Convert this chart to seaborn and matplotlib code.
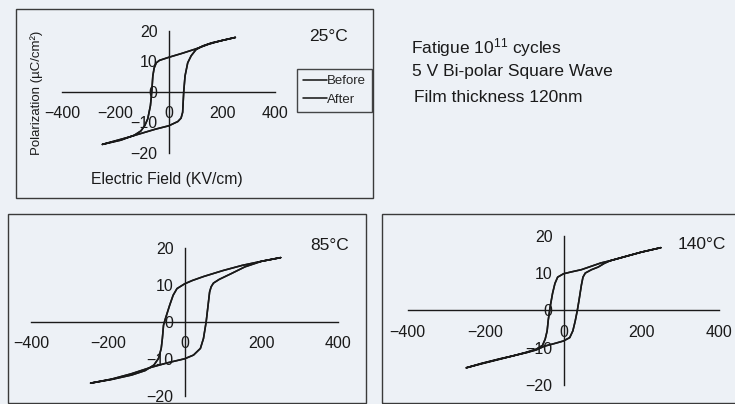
import matplotlib
matplotlib.use("Agg")
import matplotlib.pyplot as plt
from matplotlib.patches import Rectangle
import pandas as pd
import seaborn as sns

W, H = 735, 404
BG = "#edf1f6"
INK = "#1a1a1a"

states = ["Before", "After"]
temps = ["25°C", "85°C", "140°C"]
x_ticks = [-400, -200, 0, 200, 400]
y_ticks = [-20, -10, 0, 10, 20]

# 25 °C loop: descending-field branch, then ascending-field branch (kV/cm, µC/cm²)
e_down_25 = [250, 200, 174, 150, 100, 50, 0, -35, -47, -55, -60, -64, -69, -79, -90, -105, -130, -180, -250]
p_down_25 = [17.8, 16.8, 16.2, 15.6, 14.0, 12.6, 11.3, 10.3, 9.5, 7.8, 5.2, 0.0, -4.5, -8.8, -11.0, -12.8, -14.2, -15.8, -17.2]
e_up_25 = [-250, -200, -150, -100, -50, 0, 34, 46, 52, 56, 61, 71, 84, 102, 127, 160, 200, 250]
p_up_25 = [-17.2, -16.0, -14.8, -13.5, -12.2, -11.1, -9.7, -8.6, -6.7, 0.0, 5.2, 9.5, 11.8, 13.8, 15.0, 16.0, 16.8, 17.8]

# 85 °C loop
e_down_85 = [250, 200, 150, 100, 50, 20, 0, -20, -30, -39, -50, -55, -58, -61, -68, -80, -103, -138, -190, -245]
p_down_85 = [17.4, 16.4, 15.3, 13.9, 12.3, 11.2, 10.3, 9.0, 7.2, 4.5, 0.9, -0.9, -4.5, -7.2, -9.9, -11.7, -13.2, -14.4, -15.6, -16.6]
e_up_85 = [-245, -190, -140, -90, -45, 0, 23, 41, 49, 56, 60, 65, 69, 75, 90, 122, 157, 200, 250]
p_up_85 = [-16.6, -15.5, -14.1, -12.4, -11.1, -10.0, -9.0, -7.2, -4.5, 0.0, 3.6, 8.1, 9.5, 10.5, 11.5, 13.1, 14.9, 16.4, 17.4]

# 140 °C loop
e_down_140 = [250, 200, 165, 120, 96, 46, 20, 0, -15, -22, -28, -34, -39, -42, -47, -54, -70, -94, -130, -164, -210, -250]
p_down_140 = [16.8, 15.6, 14.6, 13.3, 12.7, 10.9, 10.3, 9.8, 8.9, 7.2, 4.6, 1.1, -2.5, -5.5, -7.7, -9.4, -10.4, -11.2, -12.2, -13.0, -14.2, -15.4]
e_up_140 = [-250, -210, -164, -130, -94, -70, -49, -20, 0, 16, 24, 30, 35.5, 40, 46, 50, 56, 72, 89, 105, 120, 165, 200, 250]
p_up_140 = [-15.4, -14.3, -13.1, -12.2, -11.3, -10.6, -9.6, -8.8, -8.2, -7.3, -5.5, -2.9, 0.0, 2.8, 6.8, 8.9, 10.0, 10.9, 11.6, 12.6, 13.3, 14.6, 15.6, 16.8]

loops = {
    "25°C": (e_down_25 + e_up_25, p_down_25 + p_up_25),
    "85°C": (e_down_85 + e_up_85, p_down_85 + p_up_85),
    "140°C": (e_down_140 + e_up_140, p_down_140 + p_up_140),
}

rows = []
for t in temps:
    es, ps = loops[t]
    for s in states:
        for i, (e, p) in enumerate(zip(es, ps)):
            rows.append({"temp": t, "state": s, "step": i, "E": e, "P": p})
df = pd.DataFrame(rows)

sns.set_style("white")
plt.rcParams["font.family"] = ["Liberation Sans", "DejaVu Sans"]
plt.rcParams["mathtext.default"] = "regular"

fig = plt.figure(figsize=(W / 100, H / 100), dpi=100, facecolor=BG)


def px_axes(left, right, top, bottom):
    return fig.add_axes([left / W, 1 - bottom / H, (right - left) / W, (bottom - top) / H])


def px_box(x0, y0, x1, y1):
    fig.add_artist(Rectangle((x0 / W, 1 - y1 / H), (x1 - x0) / W, (y1 - y0) / H,
                             transform=fig.transFigure, fill=False, ec="#3a3a3a", lw=1.0))


def signed(v):
    return f"{v}".replace("-", "\u2212")


# framed panels
px_box(16, 9, 373, 198)
px_box(8, 214, 366, 402.5)
px_box(382, 214, 745, 403)

panel_axes = {
    "25°C": px_axes(62.3, 275.3, 30.7, 153.0),
    "85°C": px_axes(31.0, 338.3, 248.0, 395.7),
    "140°C": px_axes(407.7, 719.3, 235.7, 385.0),
}

for t, ax in panel_axes.items():
    sub = df[df["temp"] == t]
    sns.lineplot(data=sub, x="E", y="P", hue="state", hue_order=states,
                 palette=[INK, INK], sort=False, estimator=None, legend=False,
                 lw=1.15, ax=ax)
    ax.set_xlim(-400, 400)
    ax.set_ylim(-20, 20)
    ax.set_facecolor("none")
    for side in ("top", "right"):
        ax.spines[side].set_visible(False)
    for side in ("left", "bottom"):
        ax.spines[side].set_position("zero")
        ax.spines[side].set_color(INK)
        ax.spines[side].set_linewidth(1.0)
    ax.set_xticks(x_ticks)
    ax.set_yticks(y_ticks)
    ax.set_xticklabels([signed(v) for v in x_ticks])
    ax.set_yticklabels([signed(v) for v in y_ticks])
    ax.tick_params(axis="both", direction="out", length=4, width=1.0, color=INK,
                   labelsize=11.5, labelcolor=INK)
    ax.tick_params(axis="x", pad=6.5)
    ax.tick_params(axis="y", pad=4)
    ax.set_xlabel("")
    ax.set_ylabel("")

ax1 = panel_axes["25°C"]
leg = ax1.legend(ax1.lines[:2], states, loc="upper left",
                 bbox_to_anchor=(297 / W, 1 - 69 / H), bbox_transform=fig.transFigure,
                 fontsize=9.5, handlelength=1.8, handletextpad=0.05, labelspacing=0.5,
                 borderpad=0.45, borderaxespad=0, frameon=True, fancybox=False)
leg.get_frame().set_edgecolor(INK)
leg.get_frame().set_facecolor("none")
leg.get_frame().set_linewidth(1.0)

# axis titles of the first panel
fig.text(37 / W, 1 - 93 / H, "Polarization (µC/cm²)", rotation=90,
         ha="center", va="center", fontsize=9.5, color=INK)
fig.text(166.7 / W, 1 - 180 / H, "Electric Field (KV/cm)",
         ha="center", va="center", fontsize=11.3, color=INK)

# temperature tags
fig.text(328 / W, 1 - 36.7 / H, "25°C", ha="center", va="center", fontsize=12.5, color=INK)
fig.text(329.3 / W, 1 - 245 / H, "85°C", ha="center", va="center", fontsize=12.5, color=INK)
fig.text(701.7 / W, 1 - 244.3 / H, "140°C", ha="center", va="center", fontsize=12.5, color=INK)

# test conditions
fig.text(411 / W, 1 - 53.3 / H, "Fatigue 10$^{11}$ cycles", ha="left", va="baseline",
         fontsize=12.5, color=INK)
fig.text(412.3 / W, 1 - 75.7 / H, "5 V Bi-polar Square Wave", ha="left", va="baseline",
         fontsize=12.5, color=INK)
fig.text(414.3 / W, 1 - 101.7 / H, "Film thickness 120nm", ha="left", va="baseline",
         fontsize=12.5, color=INK)

fig.savefig("out.png", dpi=100, facecolor=BG)
